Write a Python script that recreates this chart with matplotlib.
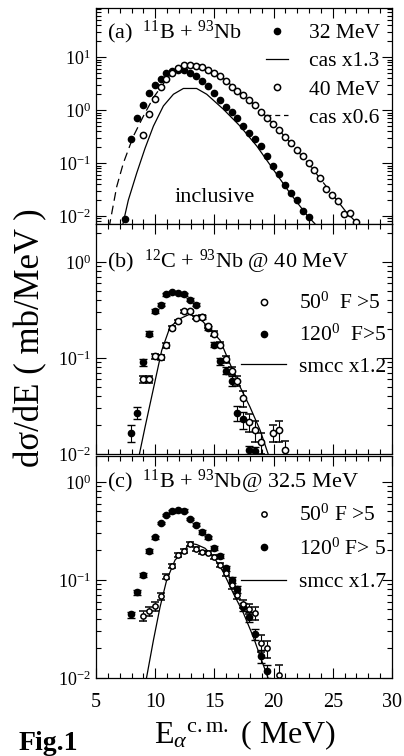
import numpy as np
import matplotlib
matplotlib.use("Agg")
import matplotlib.pyplot as plt
from matplotlib.ticker import FixedLocator, LogLocator, MultipleLocator, NullFormatter
from matplotlib.lines import Line2D

plt.rcParams["font.family"] = ["Liberation Serif", "DejaVu Serif"]
plt.rcParams["mathtext.fontset"] = "custom"
plt.rcParams["mathtext.rm"] = "Liberation Serif"
plt.rcParams["mathtext.it"] = "Liberation Serif:italic"
plt.rcParams["mathtext.bf"] = "Liberation Serif:bold"

# ---- panel (a): 11B + 93Nb inclusive ----
a32_x = [7.45, 7.95, 8.45, 8.95, 9.45, 9.95, 10.45, 10.95, 11.45, 11.95, 12.45, 12.95,
         13.45, 13.95, 14.45, 14.95, 15.45, 15.95, 16.45, 16.95, 17.45, 17.95, 18.45,
         18.95, 19.45, 19.95, 20.45, 20.95, 21.45, 21.95, 22.45, 22.95]
a32_y = [0.0087, 0.28, 0.70, 1.24, 2.15, 2.97, 3.8, 5.0, 5.6, 5.8, 5.7, 5.0,
         4.35, 3.6, 2.9, 2.1, 1.54, 1.16, 0.92, 0.71, 0.51, 0.37, 0.28,
         0.21, 0.138, 0.087, 0.063, 0.039, 0.027, 0.020, 0.0125, 0.0096]
a40_x = [8.95, 9.45, 9.95, 10.45, 10.95, 11.45, 11.95, 12.45, 12.95, 13.45, 13.95,
         14.45, 14.95, 15.45, 15.95, 16.45, 16.95, 17.45, 17.95, 18.45, 18.95, 19.45,
         19.95, 20.45, 20.95, 21.45, 21.95, 22.45, 22.95, 23.45, 23.95, 24.45, 24.95,
         25.45, 25.95, 26.45, 26.95]
a40_y = [0.34, 0.86, 1.66, 2.7, 3.9, 5.0, 6.2, 7.2, 7.2, 6.9, 6.45,
         5.8, 5.0, 4.35, 3.6, 2.8, 2.3, 1.9, 1.53, 1.23, 0.91, 0.72,
         0.55, 0.42, 0.31, 0.24, 0.177, 0.136, 0.10, 0.075, 0.052, 0.033, 0.025,
         0.019, 0.011, 0.0115, 0.0077]
cas32_x = [7.2, 7.73, 8.44, 9.14, 9.85, 10.69, 11.54, 12.38, 13.5, 14.35, 15.76,
           17.17, 18.58, 19.99, 21.39, 22.8, 23.8]
cas32_y = [0.006, 0.020, 0.065, 0.19, 0.50, 1.2, 2.0, 2.57, 2.57, 2.0, 1.04,
           0.50, 0.21, 0.075, 0.027, 0.0105, 0.006]
cas40_x = [6.1, 6.75, 7.31, 8.15, 9.0, 9.85, 10.97, 12.1, 12.94, 13.79, 15.5,
           17.0, 18.5, 20.0, 21.5, 23.0, 24.5, 26.0, 27.4]
cas40_y = [0.006, 0.036, 0.10, 0.32, 0.77, 1.73, 3.86, 6.45, 7.46, 7.1, 4.5,
           2.3, 1.2, 0.55, 0.23, 0.095, 0.035, 0.013, 0.006]

# ---- panel (b): 12C + 93Nb @ 40 MeV ----
b120_x = [7.95, 8.45, 8.95, 9.45, 9.95, 10.45, 10.95, 11.45, 11.95, 12.45, 12.95,
          13.45, 13.95, 14.45, 14.95, 15.45, 15.95, 16.45, 16.95, 17.45, 17.95, 18.45]
b120_y = [0.0166, 0.027, 0.090, 0.18, 0.31, 0.36, 0.46, 0.49, 0.475, 0.46, 0.405,
          0.36, 0.27, 0.207, 0.138, 0.093, 0.074, 0.058, 0.027, 0.023, 0.011, 0.0107]
b120_rel = [0.2, 0.14, 0.08, 0.06, 0.04, 0.04, 0.03, 0.03, 0.03, 0.03, 0.04,
            0.04, 0.05, 0.05, 0.06, 0.08, 0.09, 0.12, 0.18, 0.2, 0.1, 0.1]
b50_x = [8.95, 9.45, 9.95, 10.45, 10.95, 11.45, 11.95, 12.45, 12.95, 13.45, 13.95,
         14.45, 14.95, 15.45, 15.95, 16.45, 16.95, 17.45, 17.95, 18.45, 18.95,
         19.95, 20.45, 20.95]
b50_y = [0.060, 0.060, 0.104, 0.102, 0.135, 0.205, 0.241, 0.306, 0.306, 0.263, 0.27,
         0.214, 0.18, 0.138, 0.097, 0.074, 0.058, 0.038, 0.0216, 0.0177, 0.0133,
         0.0166, 0.0177, 0.011]
b50_rel = [0.08, 0.08, 0.06, 0.06, 0.05, 0.04, 0.04, 0.03, 0.03, 0.03, 0.04,
           0.04, 0.05, 0.06, 0.08, 0.1, 0.12, 0.18, 0.22, 0.25, 0.25,
           0.2, 0.25, 0.25]
smcc_b_x = [8.63, 9.14, 9.85, 10.55, 11.25, 12.1, 12.89, 13.79, 14.63, 15.48,
            16.32, 17.17, 18.0, 18.86, 19.6]
smcc_b_y = [0.0095, 0.019, 0.048, 0.12, 0.21, 0.257, 0.285, 0.257, 0.20, 0.153,
            0.087, 0.050, 0.031, 0.0177, 0.0095]

# ---- panel (c): 11B + 93Nb @ 32.5 MeV ----
c120_x = [7.95, 8.45, 8.95, 9.45, 9.95, 10.45, 10.95, 11.45, 11.95, 12.45, 12.95,
          13.45, 13.95, 14.45, 14.95, 15.45, 15.95, 16.45, 16.95, 17.45, 17.95,
          18.45, 18.95, 19.45]
c120_y = [0.0445, 0.0748, 0.112, 0.198, 0.273, 0.38, 0.46, 0.50, 0.52, 0.51, 0.42,
          0.366, 0.31, 0.273, 0.211, 0.176, 0.132, 0.10, 0.081, 0.053, 0.042,
          0.028, 0.0168, 0.0118]
c120_rel = [0.07, 0.06, 0.05, 0.04, 0.04, 0.03, 0.03, 0.03, 0.03, 0.03, 0.03,
            0.03, 0.04, 0.04, 0.05, 0.05, 0.06, 0.07, 0.08, 0.1, 0.12,
            0.12, 0.15, 0.15]
c50_x = [8.95, 9.45, 9.95, 10.45, 10.95, 11.45, 11.95, 12.45, 12.95, 13.45, 13.95,
         14.45, 14.95, 15.45, 15.95, 16.45, 16.95, 17.45, 17.95, 18.45, 18.95,
         19.45, 20.45]
c50_y = [0.043, 0.048, 0.054, 0.0686, 0.108, 0.139, 0.18, 0.198, 0.234, 0.207, 0.192,
         0.19, 0.173, 0.143, 0.118, 0.088, 0.070, 0.057, 0.051, 0.046, 0.023,
         0.020, 0.0108]
c50_rel = [0.12, 0.1, 0.1, 0.08, 0.06, 0.05, 0.04, 0.04, 0.04, 0.04, 0.04,
           0.04, 0.05, 0.05, 0.06, 0.07, 0.08, 0.1, 0.12, 0.15, 0.2,
           0.2, 0.25]
smcc_c_x = [9.23, 9.85, 10.41, 10.97, 11.68, 12.38, 12.94, 13.5, 14.2, 14.92,
            15.76, 16.6, 17.45, 18.3, 19.0, 19.6]
smcc_c_y = [0.0095, 0.0243, 0.053, 0.10, 0.16, 0.195, 0.237, 0.23, 0.211, 0.173,
            0.12, 0.073, 0.046, 0.026, 0.015, 0.0095]

W, H = 404, 756
fig = plt.figure(figsize=(W / 100, H / 100), dpi=100)

def add_axes(top_px, bottom_px):
    left = 96 / W
    width = (392 - 96) / W
    return fig.add_axes([left, 1 - bottom_px / H, width, (bottom_px - top_px) / H])

def style_axes(ax, ylim, show_x):
    ax.set_yscale("log")
    ax.set_xlim(5, 30)
    ax.set_ylim(*ylim)
    ax.xaxis.set_major_locator(MultipleLocator(5))
    ax.xaxis.set_minor_locator(MultipleLocator(1))
    ax.yaxis.set_major_locator(FixedLocator([0.01, 0.1, 1, 10]))
    ax.yaxis.set_minor_locator(LogLocator(base=10, subs=np.arange(2, 10)))
    ax.yaxis.set_minor_formatter(NullFormatter())
    ax.yaxis.set_major_formatter(plt.FuncFormatter(
        lambda v, p: r"10$^{%d}$" % int(round(np.log10(v)))))
    ax.tick_params(which="both", direction="in", top=True, right=True,
                   width=0.8, labelsize=13)
    ax.tick_params(which="major", length=7)
    ax.tick_params(which="minor", length=3.5)
    if not show_x:
        ax.tick_params(labelbottom=False)
    for s in ax.spines.values():
        s.set_linewidth(0.9)

ms = 4.5
fs = 16
leg_fs = 15.5

# (a)
ax1 = add_axes(8, 224)
style_axes(ax1, (10 ** -2.15, 10 ** 1.93), False)
ax1.plot(cas32_x, cas32_y, "-", color="k", lw=0.9)
ax1.plot(cas40_x, cas40_y, "--", color="k", lw=0.9, dashes=(7, 4))
ax1.plot(a32_x, a32_y, "o", ms=ms, color="k")
ax1.plot(a40_x, a40_y, "o", ms=ms, mfc="white", mec="k", mew=1.1)
h_a = [Line2D([], [], ls="", marker="o", ms=ms, color="k"),
       Line2D([], [], ls="-", color="k", lw=0.9),
       Line2D([], [], ls="", marker="o", ms=ms, mfc="white", mec="k", mew=1.1),
       Line2D([], [], ls="--", color="k", lw=0.9, dashes=(4, 3))]
ax1.legend(h_a, ["32 MeV", "cas x1.3", "40 MeV", "cas x0.6"], loc="upper left",
           bbox_to_anchor=(0.575, 0.93), frameon=False, fontsize=leg_fs,
           handlelength=1.0, handletextpad=1.0, labelspacing=0.38,
           borderaxespad=0, borderpad=0)
ax1.text(0.037, 0.885, r"(a)  $^{11}$B + $^{93}$Nb", transform=ax1.transAxes,
         fontsize=fs, va="center")
ax1.text(0.40, 0.125, "inclusive", transform=ax1.transAxes, fontsize=fs,
         ha="center", va="center")

# (b)
ax2 = add_axes(224, 454)
style_axes(ax2, (0.01, 10 ** 0.396), False)
ax2.plot(smcc_b_x, smcc_b_y, "-", color="k", lw=0.9)
ax2.errorbar(b120_x, b120_y, yerr=np.array(b120_rel) * np.array(b120_y), fmt="o",
             ms=ms, color="k", ecolor="k", elinewidth=0.8, capsize=3)
ax2.errorbar(b50_x, b50_y, yerr=np.array(b50_rel) * np.array(b50_y), fmt="o",
             ms=ms, mfc="white", mec="k", mew=1.1, ecolor="k", elinewidth=0.8, capsize=3)
h_b = [Line2D([], [], ls="", marker="o", ms=ms, mfc="white", mec="k", mew=1.1),
       Line2D([], [], ls="", marker="o", ms=ms, color="k"),
       Line2D([], [], ls="-", color="k", lw=0.9)]
ax2.legend(h_b, [r"50$^0$  F >5", r"120$^0$  F>5", "smcc x1.2"], loc="upper left",
           bbox_to_anchor=(0.49, 0.70), frameon=False, fontsize=leg_fs,
           handlelength=2.1, handletextpad=0.6, labelspacing=0.5,
           borderaxespad=0, borderpad=0)
ax2.text(0.037, 0.835, r"(b)  $^{12}$C + $^{93}$Nb @ 40 MeV", transform=ax2.transAxes,
         fontsize=fs, va="center")

# (c)
ax3 = add_axes(456, 678)
style_axes(ax3, (0.01, 10 ** 0.265), True)
ax3.plot(smcc_c_x, smcc_c_y, "-", color="k", lw=0.9)
ax3.errorbar(c120_x, c120_y, yerr=np.array(c120_rel) * np.array(c120_y), fmt="o",
             ms=ms, color="k", ecolor="k", elinewidth=0.8, capsize=3)
ax3.errorbar(c50_x, c50_y, yerr=np.array(c50_rel) * np.array(c50_y), fmt="o",
             ms=3.8, mfc="white", mec="k", mew=1.1, ecolor="k", elinewidth=0.8, capsize=3)
h_c = [Line2D([], [], ls="", marker="o", ms=3.8, mfc="white", mec="k", mew=1.1),
       Line2D([], [], ls="", marker="o", ms=ms, color="k"),
       Line2D([], [], ls="-", color="k", lw=0.9)]
ax3.legend(h_c, [r"50$^0$ F >5", r"120$^0$ F> 5", "smcc x1.7"], loc="upper left",
           bbox_to_anchor=(0.49, 0.78), frameon=False, fontsize=leg_fs,
           handlelength=2.1, handletextpad=0.6, labelspacing=0.58,
           borderaxespad=0, borderpad=0)
ax3.text(0.037, 0.885, r"(c)  $^{11}$B + $^{93}$Nb@ 32.5 MeV", transform=ax3.transAxes,
         fontsize=fs, va="center")
ax3.tick_params(axis="x", labelsize=14.5, pad=11)

fig.text(0.075, 0.553, "dσ/dE ( mb/MeV )", rotation=90, fontsize=25,
         ha="center", va="center")
fig.text(0.607, 0.028, r"E$_{\alpha}$$^{\rm c.m.}$ ( MeV)", fontsize=23,
         ha="center", va="center")
fig.text(0.045, 0.016, "Fig.1", fontsize=20, fontweight="bold", va="center")

fig.savefig("out.png", dpi=100)
